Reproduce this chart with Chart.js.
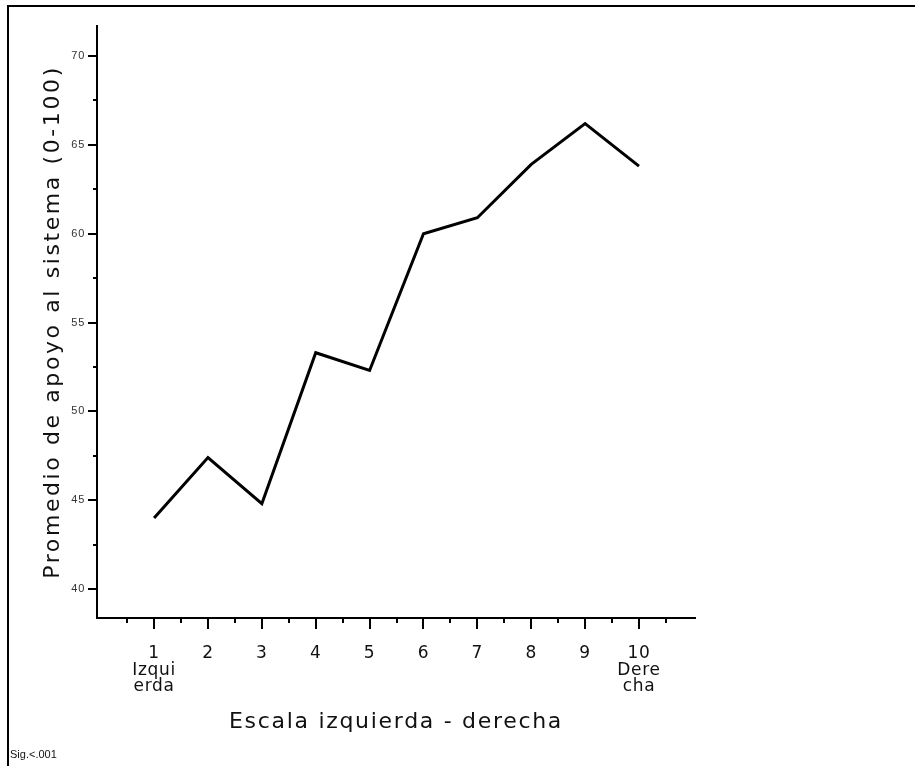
<!DOCTYPE html>
<html>
<head>
<meta charset="utf-8">
<script src="https://cdn.jsdelivr.net/npm/chart.js@4.4.1/dist/chart.umd.min.js"></script>
<style>
  html, body { margin: 0; padding: 0; background: #fff; }
  #wrap { width: 915px; height: 766px; }
</style>
</head>
<body>
<div id="wrap"><canvas id="grafica" width="915" height="766"></canvas></div>
<script>
// valores
var escala = [1, 2, 3, 4, 5, 6, 7, 8, 9, 10];
var promedio = [44.0, 47.4, 44.8, 53.3, 52.3, 60.0, 60.9, 63.9, 66.2, 63.8];
var etiquetasX = { 1: ['1', 'Izqui', 'erda'], 10: ['10', 'Dere', 'cha'] };
var marcasX = [0.5, 1, 1.5, 2, 2.5, 3, 3.5, 4, 4.5, 5, 5.5, 6, 6.5, 7, 7.5, 8, 8.5, 9, 9.5, 10, 10.5];
var marcasY = [40, 42.5, 45, 47.5, 50, 52.5, 55, 57.5, 60, 62.5, 65, 67.5, 70];
var tituloX = 'Escala izquierda - derecha';
var tituloY = 'Promedio de apoyo al sistema (0-100)';
var nota = 'Sig.<.001';

var fuente = "'DejaVu Sans', Verdana, sans-serif";
var fuenteNum = "'Liberation Sans', Arial, sans-serif";

// marcas de los ejes, marco y textos
const extrasPlugin = {
  id: 'extras',
  beforeDraw(chart) {
    chart.ctx.letterSpacing = '0.7px';
  },
  afterDraw(chart) {
    const ctx = chart.ctx;
    const sx = chart.scales.x, sy = chart.scales.y;
    ctx.save();
    ctx.strokeStyle = '#000';
    ctx.lineWidth = 2;
    ctx.beginPath();
    marcasX.forEach(v => {
      const px = Math.round(sx.getPixelForValue(v));
      const largo = Number.isInteger(v) ? 11 : 5;
      ctx.moveTo(px, sy.bottom);
      ctx.lineTo(px, sy.bottom + largo);
    });
    marcasY.forEach(v => {
      const py = Math.round(sy.getPixelForValue(v));
      const largo = v % 5 === 0 ? 9 : 4;
      ctx.moveTo(sx.left, py);
      ctx.lineTo(sx.left - largo, py);
    });
    ctx.stroke();

    // marco
    ctx.beginPath();
    ctx.moveTo(8, 766);
    ctx.lineTo(8, 6);
    ctx.lineTo(915, 6);
    ctx.stroke();

    // titulos
    ctx.fillStyle = '#111';
    ctx.textAlign = 'center';
    ctx.textBaseline = 'middle';
    ctx.font = '22px ' + fuente;
    ctx.letterSpacing = '1.7px';
    ctx.fillText(tituloX, (sx.left + sx.right) / 2, 722);
    ctx.save();
    ctx.translate(53, (sy.top + sy.bottom) / 2);
    ctx.rotate(-Math.PI / 2);
    ctx.letterSpacing = '2.6px';
    ctx.fillText(tituloY, 0, 0);
    ctx.restore();

    ctx.letterSpacing = '0px';
    ctx.textAlign = 'left';
    ctx.font = '11px ' + fuenteNum;
    ctx.fillText(nota, 10, 755);
    ctx.restore();
  }
};

new Chart(document.getElementById('grafica'), {
  type: 'line',
  data: {
    datasets: [{
      data: escala.map((x, i) => ({ x: x, y: promedio[i] })),
      borderColor: '#000',
      borderWidth: 3,
      pointRadius: 0,
      tension: 0,
      fill: false,
      borderJoinStyle: 'miter'
    }]
  },
  options: {
    responsive: false,
    devicePixelRatio: 1,
    animation: false,
    layout: { padding: { top: 26, right: 220, left: 0, bottom: 0 } },
    plugins: { legend: { display: false }, tooltip: { enabled: false } },
    scales: {
      x: {
        type: 'linear',
        min: -0.06,
        max: 11.04,
        afterFit: s => { s.height = 148; },
        afterBuildTicks: s => { s.ticks = marcasX.map(v => ({ value: v })); },
        grid: { display: false, drawTicks: true, tickLength: 10 },
        border: { display: true, color: '#000', width: 2 },
        ticks: {
          autoSkip: false,
          maxRotation: 0,
          padding: 18,
          color: '#111',
          font: { family: fuente, size: 17, lineHeight: 0.95 },
          callback: v => Number.isInteger(v) ? (etiquetasX[v] || String(v)) : ''
        }
      },
      y: {
        min: 38.37,
        max: 71.69,
        afterFit: s => { s.width = 97; },
        afterBuildTicks: s => { s.ticks = marcasY.map(v => ({ value: v })); },
        grid: { display: false, drawTicks: true, tickLength: 8 },
        border: { display: true, color: '#000', width: 2 },
        ticks: {
          autoSkip: false,
          padding: 4,
          color: '#333',
          font: { family: fuenteNum, size: 11 },
          callback: v => v % 5 === 0 ? String(v) : ''
        }
      }
    }
  },
  plugins: [extrasPlugin]
});
</script>
</body>
</html>
